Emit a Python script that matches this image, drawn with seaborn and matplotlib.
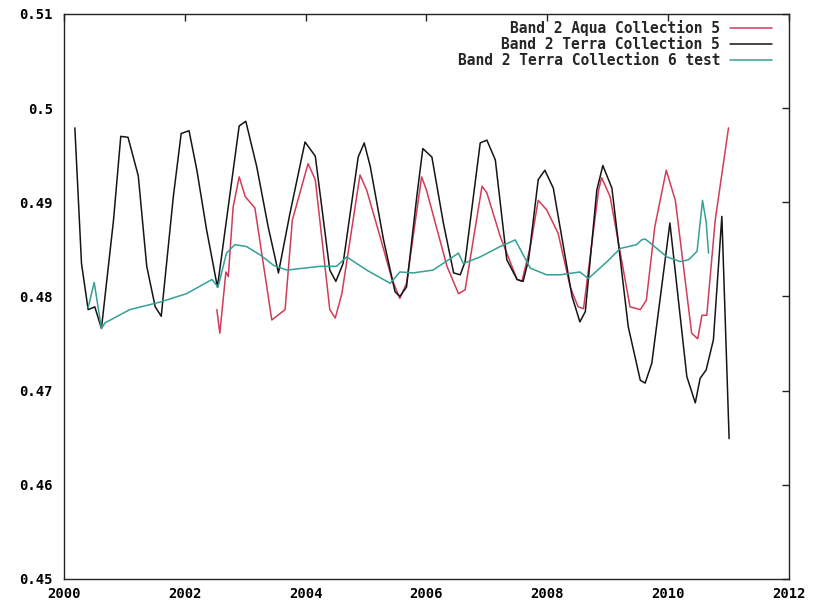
import matplotlib
matplotlib.use("Agg")
import matplotlib.pyplot as plt
import seaborn as sns
import pandas as pd

# values
aqua_c5_year = [2002.53, 2002.58, 2002.68, 2002.72, 2002.80, 2002.90, 2003.00, 2003.16,
                2003.44, 2003.66, 2003.78, 2004.04, 2004.16, 2004.40, 2004.49, 2004.60,
                2004.90, 2005.01, 2005.23, 2005.43, 2005.56, 2005.67, 2005.92, 2006.00,
                2006.34, 2006.53, 2006.64, 2006.92, 2007.00, 2007.22, 2007.50, 2007.58,
                2007.72, 2007.85, 2007.99, 2008.18, 2008.38, 2008.51, 2008.60, 2008.85,
                2008.90, 2009.04, 2009.37, 2009.54, 2009.64, 2009.78, 2009.97, 2010.12,
                2010.39, 2010.49, 2010.56, 2010.64, 2010.78, 2011.00]
aqua_c5_val = [0.4786, 0.4761, 0.4826, 0.4821, 0.4895, 0.4927, 0.4906, 0.4894,
               0.4775, 0.4786, 0.4881, 0.4941, 0.4924, 0.4786, 0.4777, 0.4803,
               0.4929, 0.4913, 0.4864, 0.4818, 0.4798, 0.4814, 0.4927, 0.4913,
               0.4832, 0.4803, 0.4807, 0.4917, 0.4910, 0.4864, 0.4818, 0.4816,
               0.4853, 0.4902, 0.4892, 0.4867, 0.4810, 0.4789, 0.4787, 0.4913,
               0.4926, 0.4906, 0.4789, 0.4786, 0.4796, 0.4874, 0.4934, 0.4902,
               0.4761, 0.4755, 0.4780, 0.4780, 0.4881, 0.4979]

terra_c5_year = [2000.18, 2000.29, 2000.40, 2000.51, 2000.62, 2000.82, 2000.94, 2001.06,
                 2001.23, 2001.37, 2001.51, 2001.61, 2001.81, 2001.94, 2002.07, 2002.20,
                 2002.36, 2002.54, 2002.90, 2003.01, 2003.19, 2003.38, 2003.55, 2003.74,
                 2003.99, 2004.16, 2004.40,
                 2004.50, 2004.62, 2004.87, 2004.97, 2005.07, 2005.29, 2005.48, 2005.56,
                 2005.67, 2005.84, 2005.94, 2006.09, 2006.28, 2006.45, 2006.56, 2006.64,
                 2006.89, 2007.00, 2007.14, 2007.33, 2007.50, 2007.60, 2007.69, 2007.85,
                 2007.96, 2008.10, 2008.41, 2008.54, 2008.63, 2008.82, 2008.92, 2009.07,
                 2009.34, 2009.54, 2009.62, 2009.73, 2010.03, 2010.31, 2010.45, 2010.53,
                 2010.63, 2010.75, 2010.89, 2011.01]
terra_c5_val = [0.4979, 0.4835, 0.4786, 0.4789, 0.4766, 0.4881, 0.4970, 0.4969,
                0.4928, 0.4832, 0.4789, 0.4779, 0.4906, 0.4973, 0.4976, 0.4934,
                0.4871, 0.4810, 0.4981, 0.4986, 0.4938, 0.4874, 0.4825, 0.4888,
                0.4964, 0.4949, 0.4828,
                0.4816, 0.4835, 0.4948, 0.4963, 0.4938, 0.4860, 0.4805, 0.4800,
                0.4810, 0.4906, 0.4957, 0.4948, 0.4878, 0.4825, 0.4823, 0.4837,
                0.4963, 0.4966, 0.4945, 0.4839, 0.4818, 0.4816, 0.4839, 0.4924,
                0.4934, 0.4915, 0.4800, 0.4773, 0.4784, 0.4913, 0.4939, 0.4915,
                0.4768, 0.4711, 0.4708, 0.4729, 0.4878, 0.4715, 0.4687, 0.4713,
                0.4722, 0.4754, 0.4885, 0.4649]

terra_c6_year = [2000.40, 2000.50, 2000.62, 2000.68, 2001.09, 2001.59, 2002.03, 2002.45,
                 2002.55, 2002.69, 2002.83, 2003.02, 2003.25, 2003.47, 2003.69, 2004.24,
                 2004.51, 2004.68, 2005.01, 2005.40, 2005.56, 2005.78, 2006.11, 2006.53,
                 2006.61, 2006.89, 2007.22, 2007.47, 2007.72, 2007.99, 2008.21, 2008.54,
                 2008.68, 2008.99, 2009.21, 2009.48, 2009.56, 2009.62, 2009.70, 2009.98,
                 2010.20, 2010.34, 2010.48, 2010.57, 2010.63, 2010.67]
terra_c6_val = [0.4788, 0.4815, 0.4766, 0.4772, 0.4786, 0.4794, 0.4803, 0.4818,
                0.4810, 0.4846, 0.4855, 0.4853, 0.4844, 0.4833, 0.4828, 0.4832,
                0.4832, 0.4842, 0.4828, 0.4814, 0.4826, 0.4825, 0.4828, 0.4846,
                0.4835, 0.4842, 0.4853, 0.4860, 0.4830, 0.4823, 0.4823, 0.4826,
                0.4819, 0.4837, 0.4851, 0.4855, 0.4860, 0.4861, 0.4857, 0.4842,
                0.4837, 0.4839, 0.4848, 0.4902, 0.4879, 0.4846]

series_labels = ['Band 2 Aqua Collection 5', 'Band 2 Terra Collection 5',
                 'Band 2 Terra Collection 6 test']
series_colors = ['#d03c5a', '#151515', '#34a096']

x_ticks = [2000, 2002, 2004, 2006, 2008, 2010, 2012]
y_ticks = [0.45, 0.46, 0.47, 0.48, 0.49, 0.50, 0.51]
y_tick_labels = ['0.45', '0.46', '0.47', '0.48', '0.49', '0.5', '0.51']

sns.set_theme(style='white')
plt.rcParams['font.family'] = ['DejaVu Sans Mono']
plt.rcParams['font.weight'] = 'bold'

fig = plt.figure(figsize=(8.15, 6.05), dpi=100)
ax = fig.add_axes([0.0785, 0.043, 0.8895, 0.934])

series = [(aqua_c5_year, aqua_c5_val), (terra_c5_year, terra_c5_val),
          (terra_c6_year, terra_c6_val)]
for (xs, ys), label, color in zip(series, series_labels, series_colors):
    df = pd.DataFrame({'year': xs, 'value': ys})
    sns.lineplot(data=df, x='year', y='value', color=color, linewidth=1.1,
                 estimator=None, sort=False, label=label, ax=ax)

ax.set_xlim(2000, 2012)
ax.set_ylim(0.45, 0.51)
ax.set_xticks(x_ticks)
ax.set_xticklabels([str(t) for t in x_ticks])
ax.set_yticks(y_ticks)
ax.set_yticklabels(y_tick_labels)
ax.set_xlabel('')
ax.set_ylabel('')
ax.tick_params(axis='both', direction='in', length=5, width=1.0, color='#222222',
               labelsize=10, top=True, right=True, labelcolor='black')
ax.tick_params(axis='x', pad=6)
ax.tick_params(axis='y', pad=8)
for s in ax.spines.values():
    s.set_visible(True)
    s.set_color('#222222')
    s.set_linewidth(1.0)

leg = ax.legend(loc='upper right', bbox_to_anchor=(0.9766, 0.989), frameon=False,
                markerfirst=False, fontsize=10.5, handlelength=2.9, handletextpad=0.65,
                labelspacing=0.07, borderaxespad=0.0, borderpad=0.0)
for line in leg.get_lines():
    line.set_linewidth(1.1)

fig.savefig('out.png', dpi=100, facecolor='white')
